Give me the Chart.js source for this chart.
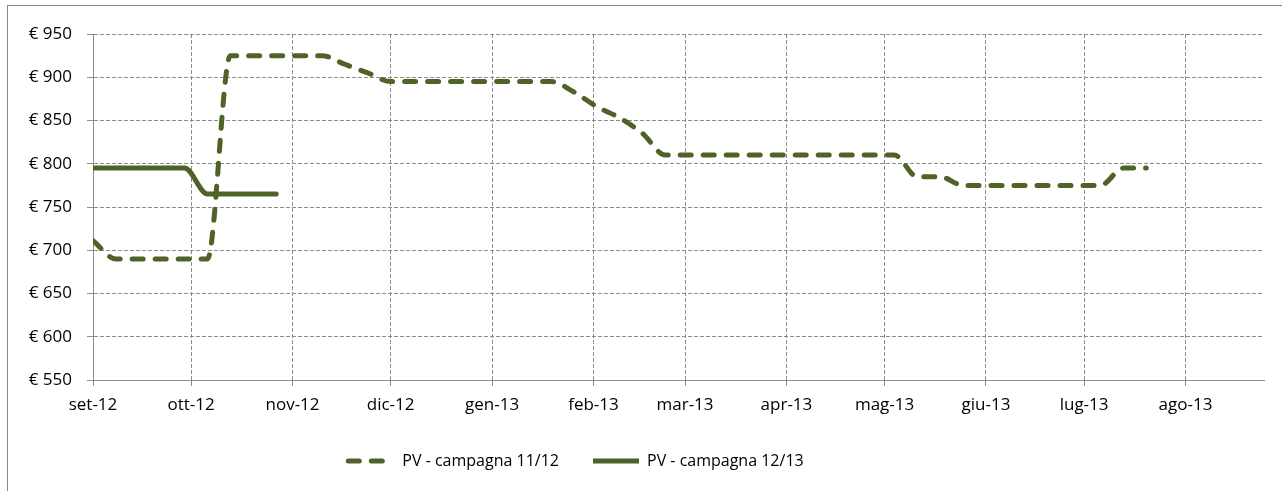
<!DOCTYPE html>
<html>
<head>
<meta charset="utf-8">
<script src="https://cdn.jsdelivr.net/npm/chart.js@4"></script>
<style>
  body { margin: 0; background: #fff; overflow: hidden; }
  #frame { position: absolute; left: 7px; top: 5px; width: 1400px; height: 600px; border: 1px solid #868686; }
  #wrap { position: absolute; left: 0; top: 0; width: 1282px; height: 491px; }
</style>
</head>
<body>
<div id="frame"></div>
<div id="wrap"><canvas id="priceChart"></canvas></div>
<script>
// month ticks of the date axis
const monthDates = ["2012-09-01", "2012-10-01", "2012-11-01", "2012-12-01", "2013-01-01", "2013-02-01",
  "2013-03-01", "2013-04-01", "2013-05-01", "2013-06-01", "2013-07-01", "2013-08-01"];
const monthLabels = ["set-12", "ott-12", "nov-12", "dic-12", "gen-13", "feb-13",
  "mar-13", "apr-13", "mag-13", "giu-13", "lug-13", "ago-13"];

// weekly survey dates
const weekDates = [
  "2012-09-01", "2012-09-08", "2012-09-15", "2012-09-22", "2012-09-29",
  "2012-10-06", "2012-10-13", "2012-10-20", "2012-10-27",
  "2012-11-03", "2012-11-10", "2012-11-17", "2012-11-24",
  "2012-12-01", "2012-12-08", "2012-12-15", "2012-12-22", "2012-12-29",
  "2013-01-05", "2013-01-12", "2013-01-19", "2013-01-26",
  "2013-02-02", "2013-02-09", "2013-02-16", "2013-02-23",
  "2013-03-02", "2013-03-09", "2013-03-16", "2013-03-23", "2013-03-30",
  "2013-04-06", "2013-04-13", "2013-04-20", "2013-04-27",
  "2013-05-04", "2013-05-11", "2013-05-18", "2013-05-25",
  "2013-06-01", "2013-06-08", "2013-06-15", "2013-06-22", "2013-06-29",
  "2013-07-06", "2013-07-13", "2013-07-20"
];

const pv1112 = [711, 690, 690, 690, 690, 690, 925, 925, 925, 925, 925, 915, 905,
  895, 895, 895, 895, 895, 895, 895, 895, 883, 866, 853, 835,
  810, 810, 810, 810, 810, 810, 810, 810, 810, 810, 810, 785, 785,
  775, 775, 775, 775, 775, 775, 775, 795, 795];
const pv1213 = [795, 795, 795, 795, 795, 765, 765, 765, 765];

const yTicks = [550, 600, 650, 700, 750, 800, 850, 900, 950];
const axisEndDate = "2013-08-25";

const startMs = Date.parse(monthDates[0]);
const dayOf = d => (Date.parse(d) - startMs) / 86400000;
const monthDays = monthDates.map(dayOf);
const toPoints = vals => vals.map((v, i) => ({ x: dayOf(weekDates[i]), y: v }));

const olive = "#4f6228";
const gridGrey = "#8c8c8c";
const tickFont = { family: "'Open Sans', sans-serif", size: 17 };
const legendFont = { family: "'Open Sans', sans-serif", size: 16 };

// the legend sits left of centre in the original
const legendShift = {
  id: "legendShift",
  afterLayout(chart) {
    chart.legend.left -= 56;
    chart.legend.right -= 56;
  }
};

function legendLabels(chart) {
  const items = Chart.defaults.plugins.legend.labels.generateLabels(chart);
  return items.map(item => {
    const ds = chart.data.datasets[item.datasetIndex];
    item.lineDash = ds.borderDash || [];
    item.lineCap = ds.borderDash ? "round" : "butt";
    item.lineWidth = ds.borderWidth;
    return item;
  });
}

new Chart(document.getElementById("priceChart"), {
  type: "line",
  data: {
    datasets: [
      {
        label: "PV - campagna 11/12",
        data: toPoints(pv1112),
        borderColor: olive,
        backgroundColor: olive,
        borderWidth: 5,
        borderDash: [11, 12],
        borderCapStyle: "round",
        borderJoinStyle: "round",
        cubicInterpolationMode: "monotone",
        pointRadius: 0
      },
      {
        label: "PV - campagna 12/13",
        data: toPoints(pv1213),
        borderColor: olive,
        backgroundColor: olive,
        borderWidth: 5,
        borderCapStyle: "round",
        borderJoinStyle: "round",
        cubicInterpolationMode: "monotone",
        pointRadius: 0
      }
    ]
  },
  options: {
    responsive: true,
    maintainAspectRatio: false,
    animation: false,
    layout: { padding: { top: 34, right: 18, left: 0, bottom: 12 } },
    plugins: {
      tooltip: { enabled: false },
      legend: {
        position: "bottom",
        labels: {
          usePointStyle: true,
          pointStyle: "line",
          pointStyleWidth: 46,
          boxHeight: 16,
          padding: 34,
          color: "#000",
          font: legendFont,
          generateLabels: legendLabels
        }
      }
    },
    scales: {
      x: {
        type: "linear",
        min: 0,
        max: dayOf(axisEndDate),
        afterBuildTicks: scale => { scale.ticks = monthDays.map(v => ({ value: v })); },
        afterFit: scale => { scale.height = 39; },
        ticks: {
          autoSkip: false,
          maxRotation: 0,
          padding: 9,
          color: "#000",
          font: tickFont,
          callback: (value, index) => monthLabels[index]
        },
        grid: {
          color: gridGrey,
          tickLength: 6,
          tickBorderDash: [],
          tickColor: gridGrey
        },
        border: { color: gridGrey, width: 1, dash: [4, 2] }
      },
      y: {
        min: yTicks[0],
        max: yTicks[yTicks.length - 1],
        afterBuildTicks: scale => { scale.ticks = yTicks.map(v => ({ value: v })); },
        afterFit: scale => { scale.width = 93; },
        ticks: {
          padding: 15,
          color: "#000",
          font: tickFont,
          callback: v => "€ " + v
        },
        grid: {
          color: gridGrey,
          tickLength: 6,
          tickBorderDash: [],
          tickColor: gridGrey
        },
        border: { color: gridGrey, width: 1, dash: [4, 2] }
      }
    }
  },
  plugins: [legendShift]
});
</script>
</body>
</html>
